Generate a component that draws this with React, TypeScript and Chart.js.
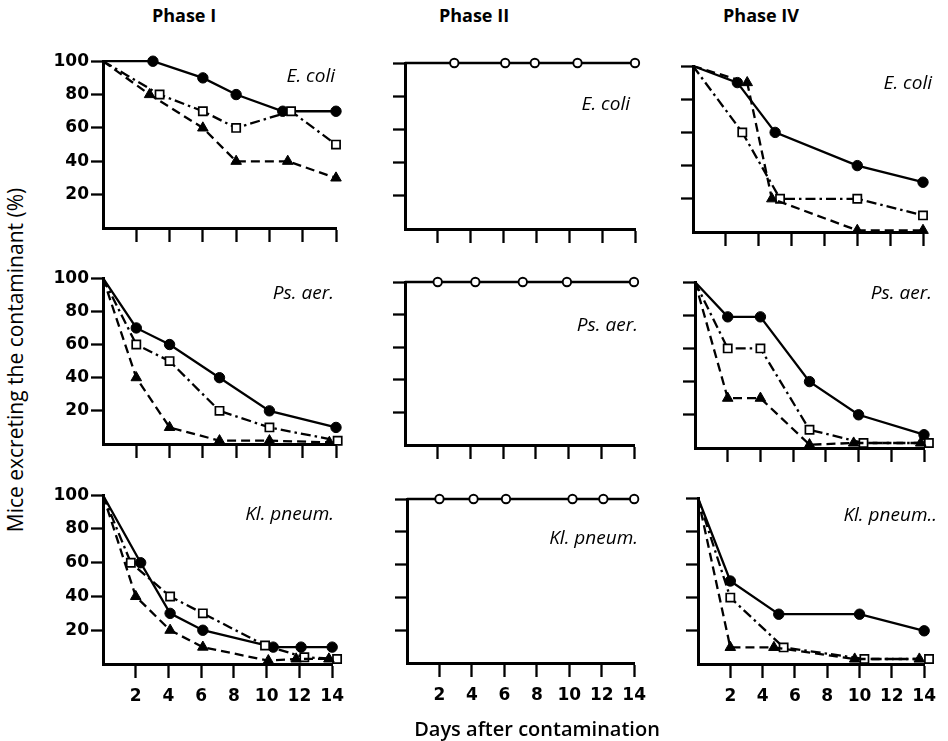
import React, { useEffect, useRef } from "react";
import { Chart, registerables } from "chart.js";

Chart.register(...registerables);

type Pt = [number, number];

// ---- tick values ----
const xTickValues = [2, 4, 6, 8, 10, 12, 14];
const yTickValues = [20, 40, 60, 80, 100];

// ---- column / row titles ----
const phaseTitles = ["Phase I", "Phase II", "Phase IV"];
const organisms = ["E. coli", "Ps. aer.", "Kl. pneum."];

// ---- Phase I ----
const p1EcoliCircles: Pt[] = [[0, 100], [3, 100], [6, 90], [8, 80], [10.8, 70], [14, 70]];
const p1EcoliSquares: Pt[] = [[0, 100], [3.4, 80], [6, 70], [8, 60], [11.3, 70], [14, 50]];
const p1EcoliTriangles: Pt[] = [[0, 100], [2.8, 80], [6, 60], [8, 40], [11.1, 40], [14, 30]];

const p1PsCircles: Pt[] = [[0, 100], [2, 70], [4, 60], [7, 40], [10, 20], [14, 10]];
const p1PsSquares: Pt[] = [[0, 100], [2, 60], [4, 50], [7, 20], [10, 10], [14.1, 2]];
const p1PsTriangles: Pt[] = [[0, 100], [2, 40], [4, 10], [7, 2], [10, 2], [13.6, 1]];

const p1KlCircles: Pt[] = [[0, 100], [2.3, 60], [4.1, 30], [6.1, 20], [10.4, 10], [12.1, 10], [14, 10]];
const p1KlSquares: Pt[] = [[0, 100], [1.7, 60], [4.1, 40], [6.1, 30], [9.9, 11], [12.3, 4], [14.3, 3]];
const p1KlTriangles: Pt[] = [[0, 100], [2, 40], [4.1, 20], [6.1, 10], [10.1, 2], [11.8, 3], [13.8, 3]];

// ---- Phase II ----
const p2Ecoli: Pt[] = [[0, 100], [3, 100], [6.1, 100], [7.9, 100], [10.5, 100], [14, 100]];
const p2Ps: Pt[] = [[0, 100], [2, 100], [4.3, 100], [7.2, 100], [9.9, 100], [14, 100]];
const p2Kl: Pt[] = [[0, 100], [2, 100], [4.1, 100], [6.1, 100], [10.2, 100], [12.1, 100], [14, 100]];

// ---- Phase IV ----
const p4EcoliCircles: Pt[] = [[0, 100], [2.7, 90], [5, 60], [10, 40], [14, 30]];
const p4EcoliSquares: Pt[] = [[0, 100], [3, 60], [5.3, 20], [10, 20], [14, 10]];
const p4EcoliTriangles: Pt[] = [[0, 100], [3.3, 90], [4.8, 20], [10, 1], [14, 1]];

const p4PsCircles: Pt[] = [[0, 100], [2, 79], [4, 79], [7, 40], [10, 20], [14, 8]];
const p4PsSquares: Pt[] = [[0, 100], [2, 60], [4, 60], [7, 11], [10.3, 3], [14.3, 3]];
const p4PsTriangles: Pt[] = [[0, 100], [2, 30], [4, 30], [7, 2], [9.7, 3], [13.8, 3]];

const p4KlCircles: Pt[] = [[0, 100], [2, 50], [5, 30], [10, 30], [14, 20]];
const p4KlSquares: Pt[] = [[0, 100], [2, 40], [5.3, 10], [10.3, 3], [14.3, 3]];
const p4KlTriangles: Pt[] = [[0, 100], [2, 10], [4.7, 10], [9.7, 3], [13.7, 3]];

type Kind = "circle" | "square" | "triangle" | "open";
type Series = { kind: Kind; pts: Pt[] };
type Area = { l: number; t: number; r: number; b: number };
type PanelDef = {
  area: Area;
  series: Series[];
  label: string;
  labelRight: number;
  labelY: number;
  showY: boolean;
  showX: boolean;
};

const panels: PanelDef[] = [
  {
    area: { l: 103, t: 61, r: 336, b: 228 },
    series: [
      { kind: "triangle", pts: p1EcoliTriangles },
      { kind: "square", pts: p1EcoliSquares },
      { kind: "circle", pts: p1EcoliCircles },
    ],
    label: organisms[0], labelRight: 335, labelY: 75, showY: true, showX: false,
  },
  {
    area: { l: 405, t: 63, r: 635, b: 229 },
    series: [{ kind: "open", pts: p2Ecoli }],
    label: organisms[0], labelRight: 630, labelY: 103, showY: false, showX: false,
  },
  {
    area: { l: 693, t: 66, r: 923, b: 232 },
    series: [
      { kind: "triangle", pts: p4EcoliTriangles },
      { kind: "square", pts: p4EcoliSquares },
      { kind: "circle", pts: p4EcoliCircles },
    ],
    label: organisms[0], labelRight: 932, labelY: 82, showY: false, showX: false,
  },
  {
    area: { l: 103, t: 278, r: 336, b: 444 },
    series: [
      { kind: "triangle", pts: p1PsTriangles },
      { kind: "square", pts: p1PsSquares },
      { kind: "circle", pts: p1PsCircles },
    ],
    label: organisms[1], labelRight: 334, labelY: 292, showY: true, showX: false,
  },
  {
    area: { l: 405, t: 282, r: 634, b: 445 },
    series: [{ kind: "open", pts: p2Ps }],
    label: organisms[1], labelRight: 638, labelY: 324, showY: false, showX: false,
  },
  {
    area: { l: 695, t: 282, r: 924, b: 448 },
    series: [
      { kind: "triangle", pts: p4PsTriangles },
      { kind: "square", pts: p4PsSquares },
      { kind: "circle", pts: p4PsCircles },
    ],
    label: organisms[1], labelRight: 932, labelY: 292, showY: false, showX: false,
  },
  {
    area: { l: 103, t: 495, r: 336, b: 664 },
    series: [
      { kind: "triangle", pts: p1KlTriangles },
      { kind: "square", pts: p1KlSquares },
      { kind: "circle", pts: p1KlCircles },
    ],
    label: organisms[2], labelRight: 334, labelY: 513, showY: true, showX: true,
  },
  {
    area: { l: 407, t: 499, r: 638, b: 663 },
    series: [{ kind: "open", pts: p2Kl }],
    label: organisms[2], labelRight: 638, labelY: 537, showY: false, showX: true,
  },
  {
    area: { l: 698, t: 498, r: 928, b: 664 },
    series: [
      { kind: "triangle", pts: p4KlTriangles },
      { kind: "square", pts: p4KlSquares },
      { kind: "circle", pts: p4KlCircles },
    ],
    label: organisms[2] + ".", labelRight: 937, labelY: 514, showY: false, showX: true,
  },
];

const titleCenters = [184, 474, 761];

function makeDataset(s: Series) {
  const base: any = {
    data: s.pts.map(([x, y]) => ({ x, y })),
    borderColor: "#000",
    borderWidth: 2.3,
    tension: 0,
    fill: false,
    clip: false,
    pointBorderColor: "#000",
    pointHoverRadius: 0,
  };
  const hideFirst = (r: number) => (ctx: any) => (ctx.dataIndex === 0 ? 0 : r);
  if (s.kind === "circle") {
    return { ...base, borderDash: [], pointStyle: "circle", pointRadius: hideFirst(5.2), pointBackgroundColor: "#000", pointBorderWidth: 1 };
  }
  if (s.kind === "square") {
    return { ...base, borderDash: [10, 4, 2.5, 4], pointStyle: "rect", pointRadius: hideFirst(5.8), pointBackgroundColor: "#fff", pointBorderWidth: 1.7 };
  }
  if (s.kind === "triangle") {
    return { ...base, borderDash: [9, 5], pointStyle: "triangle", pointRadius: hideFirst(6.1), pointBackgroundColor: "#000", pointBorderWidth: 1 };
  }
  return { ...base, borderDash: [], pointStyle: "circle", pointRadius: hideFirst(4.2), pointBackgroundColor: "#fff", pointBorderWidth: 1.9 };
}

const tickFont = { family: "'DejaVu Sans', sans-serif", size: 17, weight: "bold" as const };

function Panel({ def }: { def: PanelDef }) {
  const ref = useRef<HTMLCanvasElement>(null);
  const padL = 70, padT = 12, padR = 16, padB = 50;
  const { area } = def;
  const w = area.r - area.l + padL + padR;
  const h = area.b - area.t + padT + padB;
  useEffect(() => {
    const chart = new Chart(ref.current as HTMLCanvasElement, {
      type: "line",
      data: { datasets: def.series.map(makeDataset) },
      options: {
        responsive: false,
        animation: false,
        events: [],
        layout: { padding: { top: padT, right: padR, left: 0, bottom: 0 } },
        plugins: { legend: { display: false }, tooltip: { enabled: false } },
        scales: {
          x: {
            type: "linear",
            min: 0,
            max: 14,
            afterFit: (s: any) => { s.height = padB; },
            afterBuildTicks: (s: any) => { s.ticks = xTickValues.map((v) => ({ value: v })); },
            grid: { display: true, drawOnChartArea: false, drawTicks: true, tickLength: 14, tickWidth: 2.3, tickColor: "#000" },
            border: { display: true, color: "#000", width: 3 },
            ticks: { display: def.showX, padding: 8, color: "#000", font: tickFont, autoSkip: false, maxRotation: 0 },
          },
          y: {
            type: "linear",
            min: 0,
            max: 100,
            afterFit: (s: any) => { s.width = padL; },
            afterBuildTicks: (s: any) => { s.ticks = yTickValues.map((v) => ({ value: v })); },
            grid: { display: true, drawOnChartArea: false, drawTicks: true, tickLength: 12, tickWidth: 2.3, tickColor: "#000" },
            border: { display: true, color: "#000", width: 3 },
            ticks: { display: def.showY, padding: 2, color: "#000", font: tickFont, autoSkip: false },
          },
        },
      } as any,
    });
    return () => chart.destroy();
  }, []);
  return (
    <canvas
      ref={ref}
      width={w}
      height={h}
      style={{ position: "absolute", left: area.l - padL, top: area.t - padT, width: w, height: h }}
    />
  );
}

export default function App() {
  return (
    <div
      style={{
        position: "absolute",
        left: 0,
        top: 0,
        width: 948,
        height: 741,
        overflow: "hidden",
        background: "#fff",
        color: "#000",
      }}
    >
      {panels.map((p, i) => (
        <Panel key={i} def={p} />
      ))}
      {phaseTitles.map((t, i) => (
        <div
          key={t}
          style={{
            position: "absolute",
            left: titleCenters[i],
            top: 15,
            transform: "translate(-50%, -50%)",
            fontFamily: "'Open Sans', sans-serif",
            fontWeight: 700,
            fontSize: 18,
            lineHeight: 1,
            whiteSpace: "nowrap",
          }}
        >
          {t}
        </div>
      ))}
      {panels.map((p, i) => (
        <div
          key={"l" + i}
          style={{
            position: "absolute",
            right: 948 - p.labelRight,
            top: p.labelY,
            transform: "translateY(-50%)",
            fontFamily: "'Open Sans', sans-serif",
            fontStyle: "italic",
            fontSize: 19,
            lineHeight: 1,
            whiteSpace: "nowrap",
          }}
        >
          {p.label}
        </div>
      ))}
      <div
        style={{
          position: "absolute",
          left: 15,
          top: 360,
          transform: "translate(-50%, -50%) rotate(-90deg)",
          fontFamily: "'Open Sans', sans-serif",
          fontSize: 21,
          lineHeight: 1,
          whiteSpace: "nowrap",
        }}
      >
        Mice excreting the contaminant (%)
      </div>
      <div
        style={{
          position: "absolute",
          left: 537,
          top: 729,
          transform: "translate(-50%, -50%)",
          fontFamily: "'Open Sans', sans-serif",
          fontWeight: 600,
          fontSize: 20,
          lineHeight: 1,
          whiteSpace: "nowrap",
        }}
      >
        Days after contamination
      </div>
    </div>
  );
}
